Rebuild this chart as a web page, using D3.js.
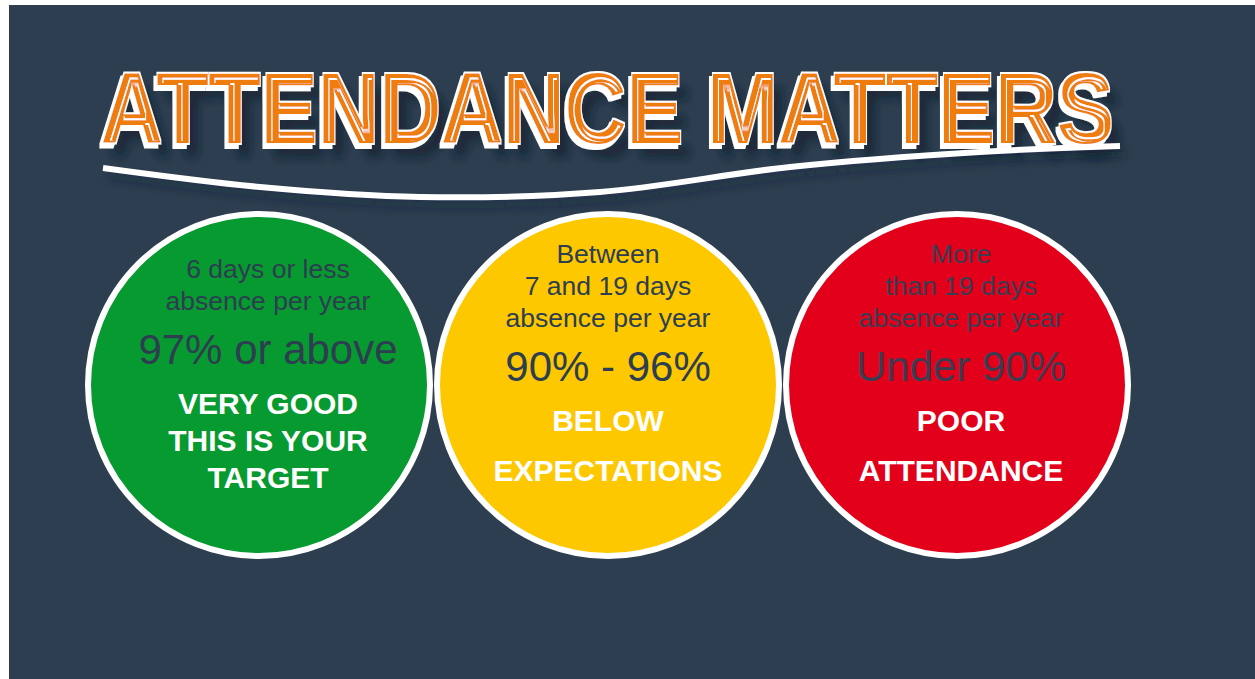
<!DOCTYPE html>
<html>
<head>
<meta charset="utf-8">
<script src="https://cdn.jsdelivr.net/npm/d3@7"></script>
<style>
  html, body { margin: 0; padding: 0; background: #ffffff; }
  svg { display: block; }
</style>
</head>
<body>
<div id="chart"></div>
<script>
// attendance bands, left to right
var bands = ["good", "below", "poor"];
var bandColors = ["#079a30", "#fdc800", "#e2001b"];
var descLines = [
    ["6 days or less", "absence per year"],
    ["Between", "7 and 19 days", "absence per year"],
    ["More", "than 19 days", "absence per year"]
];
var pctLabels = ["97% or above", "90% - 96%", "Under 90%"];
var ratingLines = [
    ["VERY GOOD", "THIS IS YOUR", "TARGET"],
    ["BELOW", "EXPECTATIONS"],
    ["POOR", "ATTENDANCE"]
];
var title = "ATTENDANCE MATTERS";

var width = 1255, height = 679;
var bg = "#2c3e50", ink = "#2c3e50";
var font = "'Liberation Sans', Arial, sans-serif";

var svg = d3.select("#chart")
    .append("svg")
    .attr("width", width)
    .attr("height", height);

var defs = svg.append("defs");
defs.append("filter")
    .attr("id", "soft")
    .attr("x", "-10%").attr("y", "-100%")
    .attr("width", "120%").attr("height", "300%")
    .append("feGaussianBlur")
    .attr("stdDeviation", 5);

// title look: drop shadow, white offset copy, white outline, thin white inline on one side
var fx = defs.append("filter")
    .attr("id", "titleFx")
    .attr("x", "-5%").attr("y", "-30%")
    .attr("width", "115%").attr("height", "170%");
fx.append("feGaussianBlur").attr("in", "SourceAlpha").attr("stdDeviation", 5).attr("result", "blur");
fx.append("feOffset").attr("in", "blur").attr("dx", 10).attr("dy", 14).attr("result", "blurOff");
fx.append("feFlood").attr("flood-color", "#0f1b27").attr("flood-opacity", 0.6).attr("result", "dark");
fx.append("feComposite").attr("in", "dark").attr("in2", "blurOff").attr("operator", "in").attr("result", "shadow");
fx.append("feMorphology").attr("in", "SourceAlpha").attr("operator", "dilate").attr("radius", 1.6).attr("result", "fat");
fx.append("feOffset").attr("in", "fat").attr("dx", -4).attr("dy", 4).attr("result", "fatOff");
fx.append("feFlood").attr("flood-color", "#ffffff").attr("result", "white");
fx.append("feComposite").attr("in", "white").attr("in2", "fatOff").attr("operator", "in").attr("result", "back");
fx.append("feComposite").attr("in", "white").attr("in2", "fat").attr("operator", "in").attr("result", "outline");
fx.append("feMorphology").attr("in", "SourceAlpha").attr("operator", "erode").attr("radius", 2.4).attr("result", "e1");
fx.append("feMorphology").attr("in", "SourceAlpha").attr("operator", "erode").attr("radius", 3.5).attr("result", "e2");
fx.append("feComposite").attr("in", "e1").attr("in2", "e2").attr("operator", "out").attr("result", "ring");
fx.append("feOffset").attr("in", "ring").attr("dx", 3).attr("dy", 1.5).attr("result", "ringOff");
fx.append("feComposite").attr("in", "ringOff").attr("in2", "e1").attr("operator", "in").attr("result", "ringIn");
fx.append("feComposite").attr("in", "white").attr("in2", "ringIn").attr("operator", "in").attr("result", "inline");
var merge = fx.append("feMerge");
["shadow", "back", "outline", "SourceGraphic", "inline"].forEach(function (n) {
    merge.append("feMergeNode").attr("in", n);
});

// panel
svg.append("rect")
    .attr("x", 9).attr("y", 5)
    .attr("width", width - 9).attr("height", height - 5)
    .attr("fill", bg);

// title, squeezed horizontally to the reference width
svg.append("g")
    .attr("transform", "translate(101,143) scale(0.855,1)")
    .append("text")
    .attr("fill", "#ee7d0e")
    .attr("filter", "url(#titleFx)")
    .style("font-family", font)
    .style("font-weight", "bold")
    .style("font-size", "100px")
    .text(title);

// underline swoosh
var swoosh = [[103, 168], [260, 187], [420, 197], [600, 192], [790, 167], [980, 152], [1120, 146]];
var swooshLine = d3.line().curve(d3.curveCatmullRom);
svg.append("path")
    .attr("d", swooshLine(swoosh.map(function (p) { return [p[0] + 6, p[1] + 8]; })))
    .attr("fill", "none")
    .attr("stroke", "#101c28")
    .attr("stroke-opacity", 0.35)
    .attr("stroke-width", 7)
    .attr("filter", "url(#soft)");
svg.append("path")
    .attr("d", swooshLine(swoosh))
    .attr("fill", "none")
    .attr("stroke", "#ffffff")
    .attr("stroke-width", 6);

// circles
var x = d3.scalePoint()
    .domain(bands)
    .range([259, 957]);
var cy = 385, r = 171;
var textShift = [9, 0, 4];

var g = svg.selectAll(".band")
    .data(bands)
    .join("g")
    .attr("class", "band")
    .attr("transform", function (d) { return "translate(" + x(d) + "," + cy + ")"; });

g.append("circle")
    .attr("r", r)
    .attr("fill", function (d, i) { return bandColors[i]; })
    .attr("stroke", "#ffffff")
    .attr("stroke-width", 6);

g.each(function (d, i) {
    var cell = d3.select(this).append("g")
        .attr("transform", "translate(" + textShift[i] + ",0)");
    var y0 = -107 - (descLines[i].length - 2) * 15;
    var descFill = i === 2 ? "#3a3d52" : ink;

    descLines[i].forEach(function (line, j) {
        cell.append("text")
            .attr("y", y0 + j * 32)
            .attr("text-anchor", "middle")
            .attr("fill", descFill)
            .style("font-family", font)
            .style("font-size", "26.5px")
            .text(line);
    });
    var yPct = y0 + (descLines[i].length - 1) * 32 + 54;
    cell.append("text")
        .attr("y", yPct)
        .attr("text-anchor", "middle")
        .attr("fill", descFill)
        .style("font-family", font)
        .style("font-size", "42px")
        .text(pctLabels[i]);

    var lh = ratingLines[i].length > 2 ? 37 : 50;
    ratingLines[i].forEach(function (line, j) {
        cell.append("text")
            .attr("y", yPct + 50 + j * lh)
            .attr("text-anchor", "middle")
            .attr("fill", "#ffffff")
            .style("font-family", font)
            .style("font-weight", "bold")
            .style("font-size", "30px")
            .text(line);
    });
});
</script>
</body>
</html>
